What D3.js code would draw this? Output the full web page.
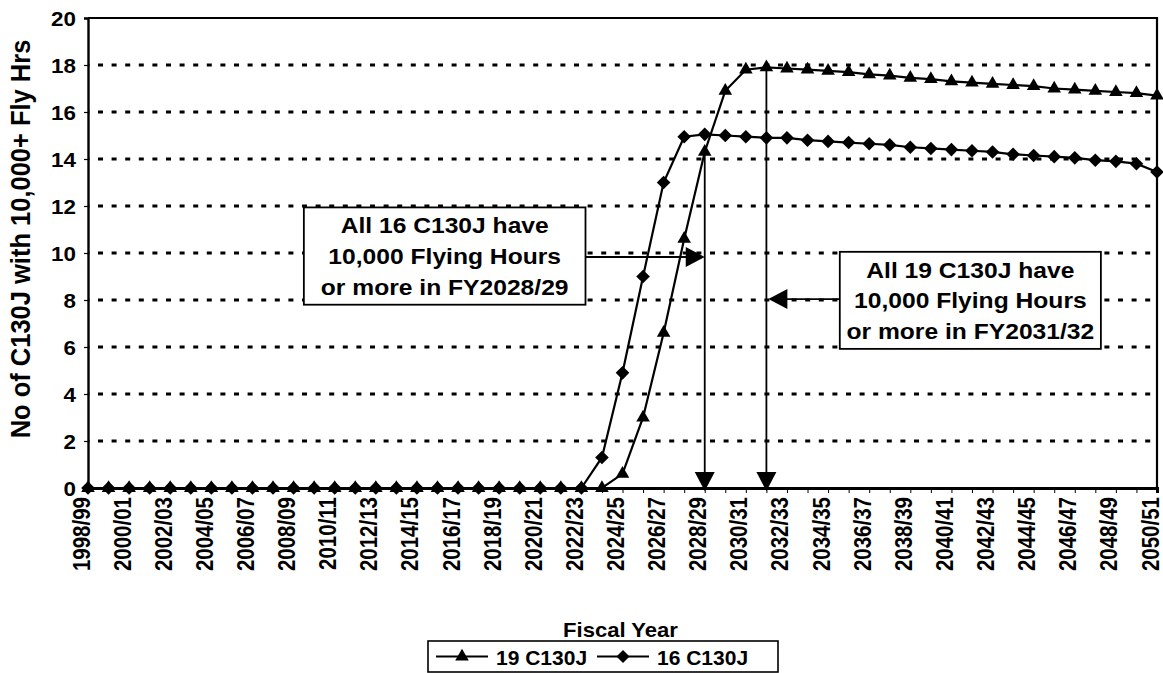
<!DOCTYPE html>
<html lang="en">
<head>
<meta charset="utf-8">
<title>C130J flying hours</title>
<script src="https://cdn.jsdelivr.net/npm/d3@7"></script>
<style>
  body { margin: 0; background: #fff; }
  svg { display: block; }
  text { font-family: "Liberation Sans", Arial, sans-serif; font-weight: bold; fill: #000; }
</style>
</head>
<body>
<div id="chart"></div>
<script>
// Fiscal years on the x axis
const years = [
  "1998/99","1999/00","2000/01","2001/02","2002/03","2003/04","2004/05","2005/06","2006/07","2007/08",
  "2008/09","2009/10","2010/11","2011/12","2012/13","2013/14","2014/15","2015/16","2016/17","2017/18",
  "2018/19","2019/20","2020/21","2021/22","2022/23","2023/24","2024/25","2025/26","2026/27","2027/28",
  "2028/29","2029/30","2030/31","2031/32","2032/33","2033/34","2034/35","2035/36","2036/37","2037/38",
  "2038/39","2039/40","2040/41","2041/42","2042/43","2043/44","2044/45","2045/46","2046/47","2047/48",
  "2048/49","2049/50","2050/51"
];

// 19 C130J fleet (triangles)
const fleet19 = [
  0,0,0,0,0,0,0,0,0,0, 0,0,0,0,0,0,0,0,0,0, 0,0,0,0,0,0,
  0.6,3.0,6.6,10.6,14.3,16.9,17.8,17.9,17.85,17.8,
  17.75,17.7,17.6,17.55,17.45,17.4,17.3,17.25,17.2,17.15,
  17.1,17.0,16.95,16.9,16.85,16.8,16.7
];

// 16 C130J fleet (diamonds)
const fleet16 = [
  0,0,0,0,0,0,0,0,0,0, 0,0,0,0,0,0,0,0,0,0, 0,0,0,0,0,
  1.3,4.9,9.0,13.0,14.95,15.05,15.0,14.95,14.9,14.9,
  14.8,14.75,14.7,14.65,14.6,14.5,14.45,14.4,14.35,14.3,
  14.2,14.15,14.1,14.05,13.95,13.9,13.8,13.45
];

const yTicks = [0, 2, 4, 6, 8, 10, 12, 14, 16, 18, 20];
const seriesNames = ["19 C130J", "16 C130J"];

// callouts: text, the year/value the arrows come from, and where the box sits (index / value units)
const callouts = [
  { lines: ["All 16 C130J have", "10,000 Flying Hours", "or more in FY2028/29"],
    year: "2028/29", value: 14.3, arrowValue: 9.83, box: [10.5, 24.2, 11.94, 7.8], side: "left" },
  { lines: ["All 19 C130J have", "10,000 Flying Hours", "or more in FY2031/32"],
    year: "2031/32", value: 17.9, arrowValue: 8.04, box: [36.57, 49.27, 10.05, 5.92], side: "right" }
];

// dimensions
const width = 1163, height = 673;
const margin = { top: 18, right: 6, bottom: 185, left: 88 };
const stretch = 1.12; // the scanned lettering is a bit wide

const svg = d3.select("#chart").append("svg")
  .attr("width", width)
  .attr("height", height);

const x = d3.scalePoint()
  .domain(years)
  .range([margin.left, width - margin.right]);

const xi = d3.scaleLinear()
  .domain([0, years.length - 1])
  .range([margin.left, width - margin.right]);

const y = d3.scaleLinear()
  .domain([0, 20])
  .range([height - margin.bottom, margin.top]);

// gridlines
svg.append("g")
  .selectAll("line")
  .data(yTicks.filter(d => d > 0 && d < 20))
  .join("line")
  .attr("x1", margin.left)
  .attr("x2", width - margin.right)
  .attr("y1", d => y(d))
  .attr("y2", d => y(d))
  .attr("stroke", "#000")
  .attr("stroke-width", 2.8)
  .attr("stroke-dasharray", "5 8.6")
  .attr("stroke-dashoffset", -10);

// plot frame top/right
svg.append("path")
  .attr("d", `M${margin.left},${y(20)}H${width - margin.right}V${y(0)}`)
  .attr("fill", "none")
  .attr("stroke", "#000")
  .attr("stroke-width", 2.2);

// y axis
const yAxis = svg.append("g")
  .attr("transform", `translate(${margin.left},0)`)
  .call(d3.axisLeft(y).tickValues(yTicks).tickSize(4));
yAxis.select(".domain").attr("stroke-width", 2.4);
yAxis.selectAll(".tick line").attr("stroke-width", 1.2);
yAxis.selectAll(".tick text")
  .attr("x", null).attr("dy", "0.36em")
  .attr("transform", `translate(-12,0) scale(${stretch},1)`)
  .style("font-size", "20px");

// x axis
const xAxis = svg.append("g")
  .attr("transform", `translate(0,${y(0)})`)
  .call(d3.axisBottom(x).tickSize(5).tickFormat((d, i) => i % 2 === 0 ? d : ""));
xAxis.select(".domain").attr("stroke-width", 3);
xAxis.selectAll(".tick line").attr("stroke-width", 1);
xAxis.selectAll(".tick text")
  .attr("y", null).attr("dy", null)
  .attr("text-anchor", "end")
  .attr("transform", `translate(1,9) scale(1.2,1) rotate(-90)`)
  .style("font-size", "20.5px");

// axis titles
svg.append("text")
  .attr("transform", `translate(30,${(y(0) + y(20)) / 2 - 14}) scale(1.05,1) rotate(-90)`)
  .attr("text-anchor", "middle")
  .style("font-size", "25.5px")
  .text("No of C130J with 10,000+ Fly Hrs");

svg.append("text")
  .attr("transform", `translate(${(margin.left + width - margin.right) / 2 - 2},637) scale(1.05,1)`)
  .attr("text-anchor", "middle")
  .style("font-size", "21px")
  .text("Fiscal Year");

// markers
const triangle = d3.symbol().type(d3.symbolTriangle).size(80);
const diamondPath = "M0,-6.8L6.8,0L0,6.8L-6.8,0Z";

const line = d3.line()
  .x((d, i) => x(years[i]))
  .y(d => y(d));

function drawSeries(values, marker) {
  const g = svg.append("g");
  g.append("path")
    .attr("d", line(values))
    .attr("fill", "none")
    .attr("stroke", "#000")
    .attr("stroke-width", 2.2);
  g.selectAll("path.mark")
    .data(values)
    .join("path")
    .attr("class", "mark")
    .attr("d", marker)
    .attr("transform", (d, i) => `translate(${x(years[i])},${y(d)})`)
    .attr("fill", "#000");
}

drawSeries(fleet16, diamondPath);
drawSeries(fleet19, triangle());

// callouts
function arrowHead(g, tipX, tipY, dir) {
  const L = 19, W = 10;
  let p;
  if (dir === "down") p = [[tipX, tipY], [tipX - W, tipY - L], [tipX + W, tipY - L]];
  if (dir === "right") p = [[tipX, tipY], [tipX - L, tipY - W], [tipX - L, tipY + W]];
  if (dir === "left") p = [[tipX, tipY], [tipX + L, tipY - W], [tipX + L, tipY + W]];
  g.append("path").attr("d", "M" + p.join("L") + "Z").attr("fill", "#000");
}

callouts.forEach(c => {
  const g = svg.append("g");
  const cx = x(c.year);
  const bx0 = xi(c.box[0]), bx1 = xi(c.box[1]);
  const by0 = y(c.box[2]), by1 = y(c.box[3]);

  // vertical arrow down to the axis
  g.append("line")
    .attr("x1", cx).attr("x2", cx)
    .attr("y1", y(c.value)).attr("y2", y(0) - 10)
    .attr("stroke", "#000").attr("stroke-width", 1.8);
  arrowHead(g, cx, y(0) + 3, "down");

  // horizontal arrow from the box
  const ay = y(c.arrowValue);
  if (c.side === "left") {
    g.append("line").attr("x1", bx1).attr("x2", cx - 10).attr("y1", ay).attr("y2", ay)
      .attr("stroke", "#000").attr("stroke-width", 1.8);
    arrowHead(g, cx, ay, "right");
  } else {
    g.append("line").attr("x1", bx0).attr("x2", cx + 10).attr("y1", ay).attr("y2", ay)
      .attr("stroke", "#000").attr("stroke-width", 1.8);
    arrowHead(g, cx + 2, ay, "left");
  }

  g.append("rect")
    .attr("x", bx0).attr("y", by0)
    .attr("width", bx1 - bx0).attr("height", by1 - by0)
    .attr("fill", "#fff").attr("stroke", "#000").attr("stroke-width", 1.8);

  const lh = (by1 - by0) / 3.15;
  c.lines.forEach((t, i) => {
    g.append("text")
      .attr("transform", `translate(${(bx0 + bx1) / 2},${by0 + lh * (i + 1) - 5}) scale(${stretch},1)`)
      .attr("text-anchor", "middle")
      .style("font-size", "22px")
      .text(t);
  });
});

// legend
const legend = svg.append("g").attr("transform", "translate(428,641)");
legend.append("rect")
  .attr("width", 350).attr("height", 31)
  .attr("fill", "#fff").attr("stroke", "#000").attr("stroke-width", 1.6);

const legendItems = legend.selectAll("g.item")
  .data(seriesNames)
  .join("g")
  .attr("class", "item")
  .attr("transform", (d, i) => `translate(${i === 0 ? 8 : 169},0)`);
legendItems.append("line")
  .attr("x1", 0).attr("x2", 52).attr("y1", 15.5).attr("y2", 15.5)
  .attr("stroke", "#000").attr("stroke-width", 1.8);
legendItems.append("path")
  .attr("d", (d, i) => i === 0 ? d3.symbol().type(d3.symbolTriangle).size(80)() : "M0,-6.5L6.5,0L0,6.5L-6.5,0Z")
  .attr("transform", "translate(26,15.5)")
  .attr("fill", "#000");
legendItems.append("text")
  .attr("x", 60).attr("y", 23.5)
  .style("font-size", "21px")
  .text(d => d);
</script>
</body>
</html>
